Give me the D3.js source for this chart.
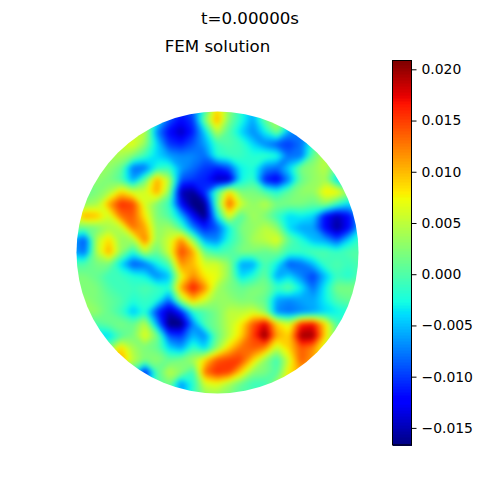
<!DOCTYPE html>
<html><head><meta charset="utf-8">
<style>html,body{margin:0;padding:0;background:#fff}svg{display:block}text{font-family:"DejaVu Sans";fill:#000}</style>
<script src="https://cdn.jsdelivr.net/npm/d3@7/dist/d3.min.js"></script>
</head><body>
<script>
const suptitle = "t=0.00000s";
const title = "FEM solution";
const tickValues = [0.020,0.015,0.010,0.005,0,-0.005,-0.010,-0.015];
const valueDomain = [-0.01667,0.02086];
const unit = 0.001;
const r108=[1,1,1,1,1,1,-1,-4,-7,-10,-8,-1,9,3,-2,-5,0,5,-1,-4,-4,0,1,1,1];
const r120=[1,1,1,2,3,3,2,-3,-9,-12,-10,2,11,2,-2,-6,1,5,-2,-7,-6,0,1,1,1];
const r132=[1,2,2,3,4,5,5,-7,-12,-15,-11,-4,5,0,-4,-7,-3,2,-6,-8,-5,0,3,1,1];
const r144=[2,2,3,4,6,7,3,-4,-10,-11,-9,-6,-1,0,-1,-4,-7,-9,-10,-8,-1,3,3,1,1];
const r156=[2,2,3,4,4,2,-1,-4,-6,-7,-7,-8,-2,-1,-1,-2,-1,-2,-8,-8,1,5,3,1,1];
const r168=[2,2,3,3,1,-8,-8,-2,-1,-6,-8,-10,-11,-9,-3,-2,-7,-8,-4,2,3,5,0,-3,-3];
const r180=[2,2,3,2,0,-6,1,11,5,-9,-10,-11,-15,-15,-3,-1,-11,-13,-7,1,3,4,-4,-6,-6];
const r192=[1,1,2,4,9,6,6,11,3,-15,-16,-10,0,9,2,2,0,-2,1,3,3,8,8,3,1];
const r204=[1,3,4,11,16,15,6,2,-1,-12,-17,-16,1,14,6,3,5,2,2,2,1,3,-1,-4,-3];
const r216=[6,11,10,6,13,14,8,2,0,-5,-12,-17,-3,7,0,4,2,-1,-4,-3,-4,-12,-15,-12,-5];
const r228=[2,1,2,4,5,13,11,3,4,0,-7,-11,-9,-3,2,3,5,3,-4,-6,-6,-12,-16,-12,-4];
const r240=[-6,-9,5,9,3,4,13,3,6,12,3,-6,-7,-2,1,4,5,7,1,-2,-5,-6,-9,-4,-1];
const r252=[-6,-8,5,11,3,-2,5,1,6,15,11,1,-1,0,2,2,1,2,-1,-1,0,0,-1,0,0];
const r264=[0,0,2,2,-4,-9,-8,-3,0,12,10,6,6,3,-6,-6,0,-3,-9,-8,-5,-1,0,-1,0];
const r276=[2,2,1,-1,-1,-2,-3,-7,-5,7,12,8,7,3,-4,-2,1,-6,-4,-7,-10,-5,-1,-2,0];
const r288=[2,2,2,0,-1,-1,0,-1,-2,11,17,12,4,2,1,2,2,-1,1,-3,-8,-3,2,2,2];
const r300=[3,3,2,1,0,-2,-1,-2,-8,4,10,6,3,3,2,2,1,-6,-7,-6,-6,-3,0,1,1];
const r312=[3,3,3,1,-1,-5,-2,-10,-15,-11,-2,0,2,5,5,6,3,-7,-8,-7,-6,-4,-3,-2,-2];
const r324=[0,0,0,1,2,1,5,-6,-17,-17,-7,0,2,5,8,14,18,9,6,16,17,9,0,-2,-2];
const r336=[-2,-3,-4,-4,0,2,7,2,-9,-10,-5,-7,1,5,9,15,21,11,9,20,20,9,1,-1,-1];
const r348=[1,1,1,2,9,4,2,1,-4,-6,-1,-4,3,9,13,14,12,5,9,14,12,6,2,1,1];
const r360=[2,2,4,8,11,5,2,3,1,2,4,9,14,15,15,9,3,-1,6,14,11,6,2,1,1];
const r372=[2,2,2,3,3,-1,-12,0,5,3,-1,13,16,15,9,3,2,0,8,11,8,4,2,1,1];
const r384=[2,2,2,2,1,-3,-6,0,2,-7,-2,6,7,4,1,-1,-1,4,9,8,5,3,2,1,1];
const r396=[2,2,2,2,1,-1,-4,-1,1,-5,-1,3,3,2,0,0,1,4,6,5,4,2,2,1,1];
const rows=[r108,r120,r132,r144,r156,r168,r180,r192,r204,r216,r228,r240,r252,r264,r276,r288,r300,r312,r324,r336,r348,r360,r372,r384,r396];

// matplotlib jet
const jetR=d3.scaleLinear().domain([0,.35,.66,.89,1]).range([0,0,1,1,.5]).clamp(true);
const jetG=d3.scaleLinear().domain([0,.125,.375,.64,.91,1]).range([0,0,1,1,0,0]).clamp(true);
const jetB=d3.scaleLinear().domain([0,.11,.34,.65,1]).range([.5,1,1,0,0]).clamp(true);
const norm=d3.scaleLinear().domain(valueDomain).range([0,1]).clamp(true);
const jet=v=>{const t=norm(v);return d3.rgb(jetR(t)*255,jetG(t)*255,jetB(t)*255).formatRgb();};

const svg=d3.select("body").append("svg").attr("width",500).attr("height",500);

// disk
const cx=217.5,cy=252.5,rad=141;
const nx=rows[0].length,ny=rows.length;
const px=d3.scaleLinear().domain([0.5,nx-0.5]).range([73,361]);
const py=d3.scaleLinear().domain([0.5,ny-0.5]).range([108,396]);
const values=rows.flat();
const thresholds=d3.range(-17,21,0.5);
const contours=d3.contours().size([nx,ny]).smooth(true).thresholds(thresholds)(values);
const path=d3.geoPath(d3.geoTransform({point(x,y){this.stream.point(px(x),py(y));}}));
const defs=svg.append("defs");
defs.append("clipPath").attr("id","disk").append("circle").attr("cx",cx).attr("cy",cy).attr("r",rad);
const f=defs.append("filter").attr("id","soft").attr("x","-5%").attr("y","-5%").attr("width","110%").attr("height","110%")
  .attr("color-interpolation-filters","sRGB");
f.append("feGaussianBlur").attr("stdDeviation",2.5);
const inner=svg.append("g").attr("clip-path","url(#disk)").append("g").attr("filter","url(#soft)");
inner.append("rect").attr("x",50).attr("y",85).attr("width",335).attr("height",335).attr("fill",jet(-17*unit));
inner.selectAll("path").data(contours).join("path")
  .attr("d",path).attr("fill",d=>jet((d.value+0.25)*unit)).attr("stroke","none");

// titles
svg.append("text").attr("x",250).attr("y",24).attr("text-anchor","middle").attr("font-size",16.67).text(suptitle);
svg.append("text").attr("x",217.5).attr("y",52).attr("text-anchor","middle").attr("font-size",16.67).text(title);

// colorbar
const barX=392.5,barW=19,barTop=60.5,barBottom=445;
const barY=d3.scaleLinear().domain(valueDomain).range([barBottom,barTop]);
const levels=d3.range(256).map(i=>valueDomain[0]+(valueDomain[1]-valueDomain[0])*(i+0.5)/256);
const dv=(valueDomain[1]-valueDomain[0])/256;
svg.append("g").attr("shape-rendering","crispEdges").selectAll("rect").data(levels).join("rect")
  .attr("x",barX).attr("width",barW)
  .attr("y",d=>barY(d+dv/2)).attr("height",d=>barY(d-dv/2)-barY(d+dv/2)+1)
  .attr("fill",jet);
svg.append("rect").attr("x",barX).attr("y",barTop).attr("width",barW).attr("height",barBottom-barTop)
  .attr("fill","none").attr("stroke","#000").attr("stroke-width",1);
const axis=d3.axisRight(barY).tickValues(tickValues).tickSize(5).tickPadding(5)
  .tickFormat(d=>(d<0?"\u2212":"")+Math.abs(d).toFixed(3));
const ag=svg.append("g").attr("transform",`translate(${barX+barW},0)`).call(axis);
ag.select(".domain").remove();
ag.selectAll("text").attr("font-size",13.9).attr("font-family","DejaVu Sans").attr("fill","#000");
ag.selectAll("line").attr("stroke","#000").attr("stroke-width",1);
</script>
</body></html>
